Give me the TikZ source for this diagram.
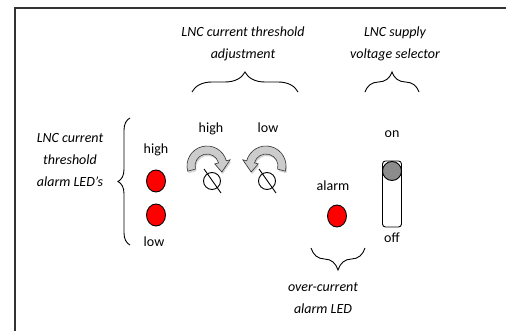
\documentclass[tikz,border=0pt]{standalone}
\usepackage{fontspec}
\setmainfont{Carlito}
\usetikzlibrary{positioning,shapes.geometric,decorations.pathreplacing,shadows,calc}

\begin{document}
\begin{tikzpicture}[
  x=1pt, y=-1pt,
  every node/.style={font=\fontsize{14}{16}\selectfont, inner sep=0pt},
  caption/.style={font=\fontsize{14}{22}\selectfont\itshape, align=center},
  led/.style={ellipse, draw, fill=red, minimum width=19pt, minimum height=22pt, line width=0.9pt},
  knob/.style={circle, draw, minimum size=17pt, line width=0.9pt},
  curly/.style={decorate, decoration={brace, amplitude=#1}, line width=0.9pt},
  turn/.style={fill=gray!40, draw=black!80, line width=0.6pt,
    drop shadow={opacity=0.35, shadow xshift=1pt, shadow yshift=-2pt}},
  switchbody/.style={draw, rounded corners=3pt, minimum width=19pt, minimum height=66pt, line width=0.9pt},
  lever/.style={circle, draw, fill=gray!90!white, minimum size=19pt, line width=0.9pt}
]
  \useasboundingbox (0,0) rectangle (506,331);
  \draw[line width=1.6pt, black!80] (506,8) -- (15,8) -- (15,331);

  % captions
  \node[caption] (capadj) at (243,44) {LNC current threshold\\adjustment};
  \node[caption] (capsup) at (395,44) {LNC supply\\voltage selector};
  \node[caption] (capled) at (70,160) {LNC current\\threshold\\alarm LED's};
  \node[caption] (capalarm) at (323,298) {over-current\\alarm LED};

  \draw[curly=20] (192,92) -- (298,92);
  \draw[curly=20] (365,92) -- (419,92);
  \draw[curly=12] (130,245) -- (130,118);
  \draw[curly=22] (365,248) -- (311,248);

  % threshold LEDs
  \node (ledhitxt) at (156,150) {high};
  \node[led] (ledhi) at (156,181) {};
  \node[led] (ledlo) at (156,215) {};
  \node (ledlotxt) at (154,242) {low};

  % adjustment knobs
  \node (khitxt) at (211,129) {high};
  \node (klotxt) at (268,128) {low};
  \begin{scope}[shift={(207,166)}, y=1pt]
    \path[turn] (195:20pt) arc[start angle=195, end angle=15, radius=20pt]
      -- (15:24pt) -- (-22:16pt) -- (15:8pt) -- (15:12pt)
      arc[start angle=15, end angle=195, radius=12pt] -- cycle;
  \end{scope}
  \begin{scope}[shift={(266,166)}, y=1pt, xscale=-1]
    \path[turn] (195:20pt) arc[start angle=195, end angle=15, radius=20pt]
      -- (15:24pt) -- (-22:16pt) -- (15:8pt) -- (15:12pt)
      arc[start angle=15, end angle=195, radius=12pt] -- cycle;
  \end{scope}
  \node[knob] (khi) at (212,181) {};
  \node[knob] (klo) at (267,181) {};
  \draw[line width=0.9pt] ($(khi.center)+(-8,-12)$) -- ($(khi.center)+(9,12)$);
  \draw[line width=0.9pt] ($(klo.center)+(-8,-12)$) -- ($(klo.center)+(9,12)$);

  % alarm LED
  \node (alarmtxt) at (333,186) {alarm};
  \node[led] (alarm) at (337,216) {};

  % supply switch
  \node (ontxt) at (392,134) {on};
  \node[switchbody] (sw) at (392,194) {};
  \node[lever] (swlever) at (392,171) {};
  \node (offtxt) at (392,238) {off};
\end{tikzpicture}
\end{document}
